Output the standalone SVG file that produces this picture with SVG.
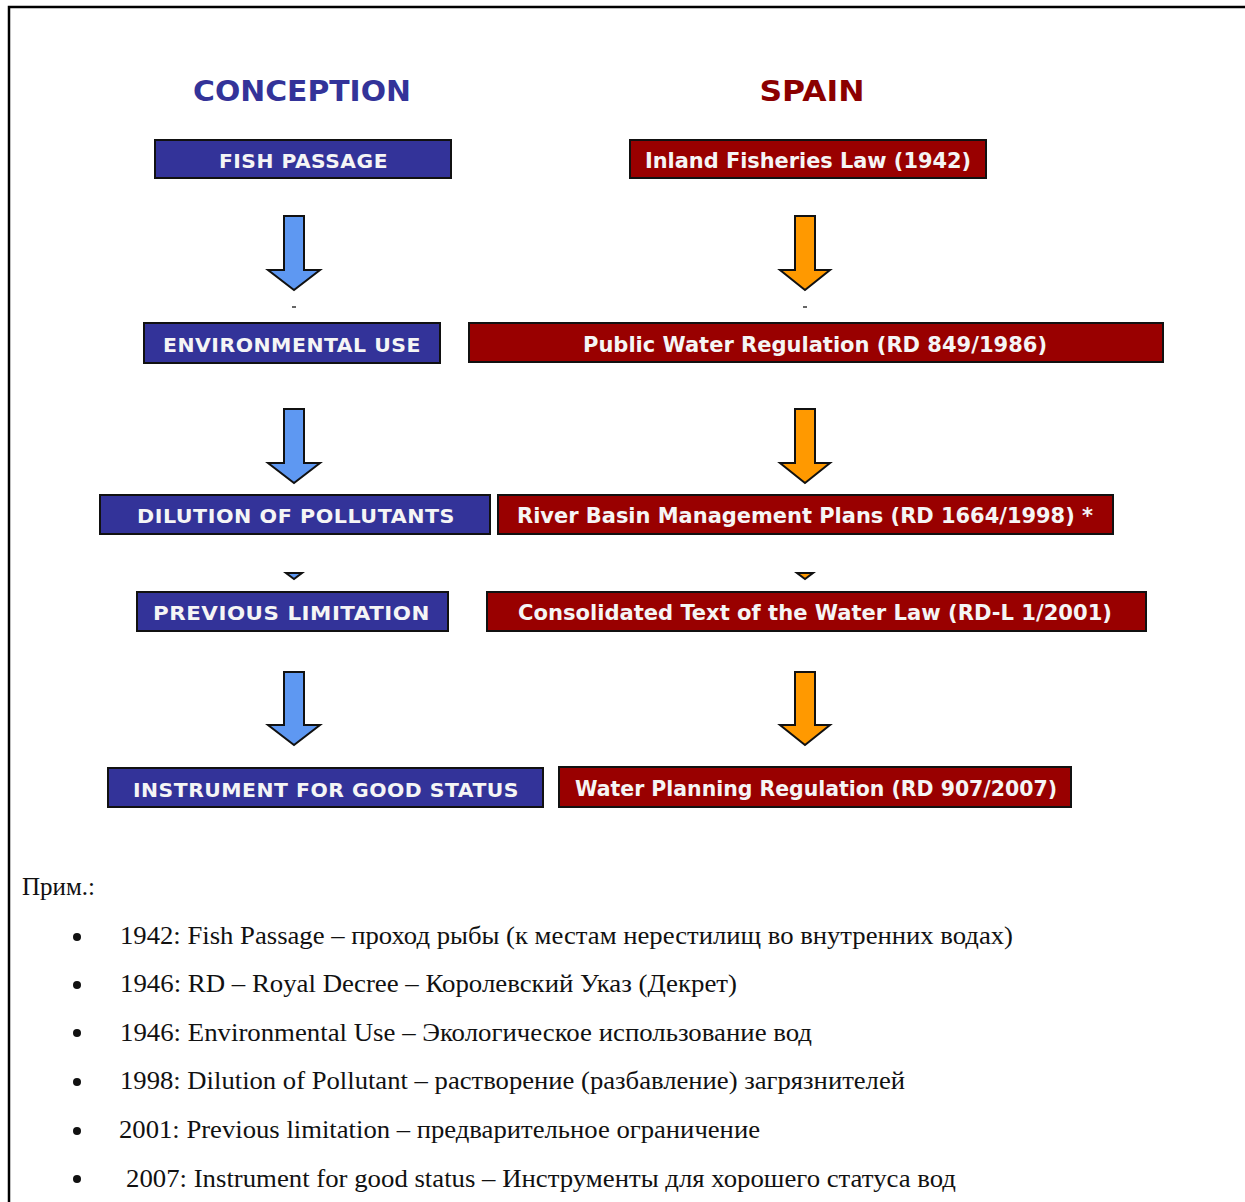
<svg xmlns="http://www.w3.org/2000/svg" width="1245" height="1202" viewBox="0 0 1245 1202">
<style>
.bl{fill:#333399;stroke:#111;stroke-width:2}
.rd{fill:#990000;stroke:#111;stroke-width:2}
.bt{font-family:"DejaVu Sans",Verdana,sans-serif;font-weight:bold;font-size:20px;fill:#F5F5F5;letter-spacing:0.5px}
.rt{font-family:"DejaVu Sans Condensed","DejaVu Sans",sans-serif;font-weight:bold;font-size:21px;fill:#F5F5F5}
.ba{fill:#5E98F2;stroke:#111;stroke-width:2;stroke-linejoin:miter}
.oa{fill:#FF9900;stroke:#111;stroke-width:2;stroke-linejoin:miter}
.nt{font-family:"Liberation Serif","Times New Roman",serif;font-size:25px;fill:#111}
.h{font-family:"DejaVu Sans",Verdana,sans-serif;font-weight:bold;font-size:29px}
</style>
<rect width="1245" height="1202" fill="#fff"/>
<path d="M9,1202 V7 H1245" fill="none" stroke="#000" stroke-width="2.5"/>
<text class="h" x="302" y="101" text-anchor="middle" fill="#333399" textLength="218" lengthAdjust="spacingAndGlyphs">CONCEPTION</text>
<text class="h" x="812" y="101" text-anchor="middle" fill="#8B0000" textLength="105" lengthAdjust="spacingAndGlyphs">SPAIN</text>
<g id="connectors">
<polygon class="ba" points="284,216 304,216 304,270 320,270 294,290 268,270 284,270"/>
<polygon class="ba" points="284,409 304,409 304,463 320,463 294,483 268,463 284,463"/>
<polygon class="ba" points="284,672 304,672 304,725 320,725 294,745 268,725 284,725"/>
<polygon class="ba" points="286,573 302,573 294,579"/>
<polygon class="oa" points="795,216 815,216 815,270 830,270 805,290 780,270 795,270"/>
<polygon class="oa" points="795,409 815,409 815,463 830,463 805,483 780,463 795,463"/>
<polygon class="oa" points="795,672 815,672 815,725 830,725 805,745 780,725 795,725"/>
<polygon class="oa" points="797,573 813,573 805,579"/>
<line x1="292" y1="307" x2="296" y2="307" stroke="#333" stroke-width="1.5"/>
<line x1="803" y1="307" x2="807" y2="307" stroke="#333" stroke-width="1.5"/>
</g>
<g id="fish-passage"><rect class="bl" x="155" y="140" width="296" height="38"/><text class="bt" x="303.5" y="168" text-anchor="middle" textLength="169" lengthAdjust="spacingAndGlyphs">FISH PASSAGE</text></g>
<g id="inland-fisheries"><rect class="rd" x="630" y="140" width="356" height="38"/><text class="rt" x="808" y="168" text-anchor="middle" textLength="326" lengthAdjust="spacingAndGlyphs">Inland Fisheries Law (1942)</text></g>
<g id="environmental-use"><rect class="bl" x="144" y="323" width="296" height="40"/><text class="bt" x="292" y="352" text-anchor="middle" textLength="258" lengthAdjust="spacingAndGlyphs">ENVIRONMENTAL USE</text></g>
<g id="public-water"><rect class="rd" x="469" y="323" width="694" height="39"/><text class="rt" x="815" y="352" text-anchor="middle" textLength="464" lengthAdjust="spacingAndGlyphs">Public Water Regulation (RD 849/1986)</text></g>
<g id="dilution"><rect class="bl" x="100" y="495" width="390" height="39"/><text class="bt" x="296" y="523" text-anchor="middle" textLength="318" lengthAdjust="spacingAndGlyphs">DILUTION OF POLLUTANTS</text></g>
<g id="river-basin"><rect class="rd" x="498" y="495" width="615" height="39"/><text class="rt" x="805" y="523" text-anchor="middle" textLength="576" lengthAdjust="spacingAndGlyphs">River Basin Management Plans (RD 1664/1998) *</text></g>
<g id="previous-limitation"><rect class="bl" x="137" y="592" width="311" height="39"/><text class="bt" x="291.5" y="620" text-anchor="middle" textLength="277" lengthAdjust="spacingAndGlyphs">PREVIOUS LIMITATION</text></g>
<g id="consolidated"><rect class="rd" x="487" y="592" width="659" height="39"/><text class="rt" x="815" y="620" text-anchor="middle" textLength="594" lengthAdjust="spacingAndGlyphs">Consolidated Text of the Water Law (RD-L 1/2001)</text></g>
<g id="instrument"><rect class="bl" x="108" y="768" width="435" height="39"/><text class="bt" x="326" y="797" text-anchor="middle" textLength="386" lengthAdjust="spacingAndGlyphs">INSTRUMENT FOR GOOD STATUS</text></g>
<g id="water-planning"><rect class="rd" x="559" y="767" width="512" height="40"/><text class="rt" x="816" y="796" text-anchor="middle" textLength="482" lengthAdjust="spacingAndGlyphs">Water Planning Regulation (RD 907/2007)</text></g>
<g id="notes">
<text class="nt" x="22" y="895">Прим.:</text>
<g fill="#111">
<circle cx="77" cy="937" r="4"/><circle cx="77" cy="985" r="4"/><circle cx="77" cy="1033" r="4"/><circle cx="77" cy="1082" r="4"/><circle cx="77" cy="1131" r="4"/><circle cx="77" cy="1179" r="4"/>
</g>
<text class="nt" x="120" y="944" textLength="893" lengthAdjust="spacingAndGlyphs">1942: Fish Passage – проход рыбы (к местам нерестилищ во внутренних водах)</text>
<text class="nt" x="120" y="992" textLength="617" lengthAdjust="spacingAndGlyphs">1946: RD – Royal Decree – Королевский Указ (Декрет)</text>
<text class="nt" x="120" y="1041" textLength="692" lengthAdjust="spacingAndGlyphs">1946: Environmental Use – Экологическое использование вод</text>
<text class="nt" x="120" y="1089" textLength="785" lengthAdjust="spacingAndGlyphs">1998: Dilution of Pollutant – растворение (разбавление) загрязнителей</text>
<text class="nt" x="119" y="1138" textLength="641" lengthAdjust="spacingAndGlyphs">2001: Previous limitation – предварительное ограничение</text>
<text class="nt" x="126" y="1187" textLength="830" lengthAdjust="spacingAndGlyphs">2007: Instrument for good status – Инструменты для хорошего статуса вод</text>
</g>
</svg>
